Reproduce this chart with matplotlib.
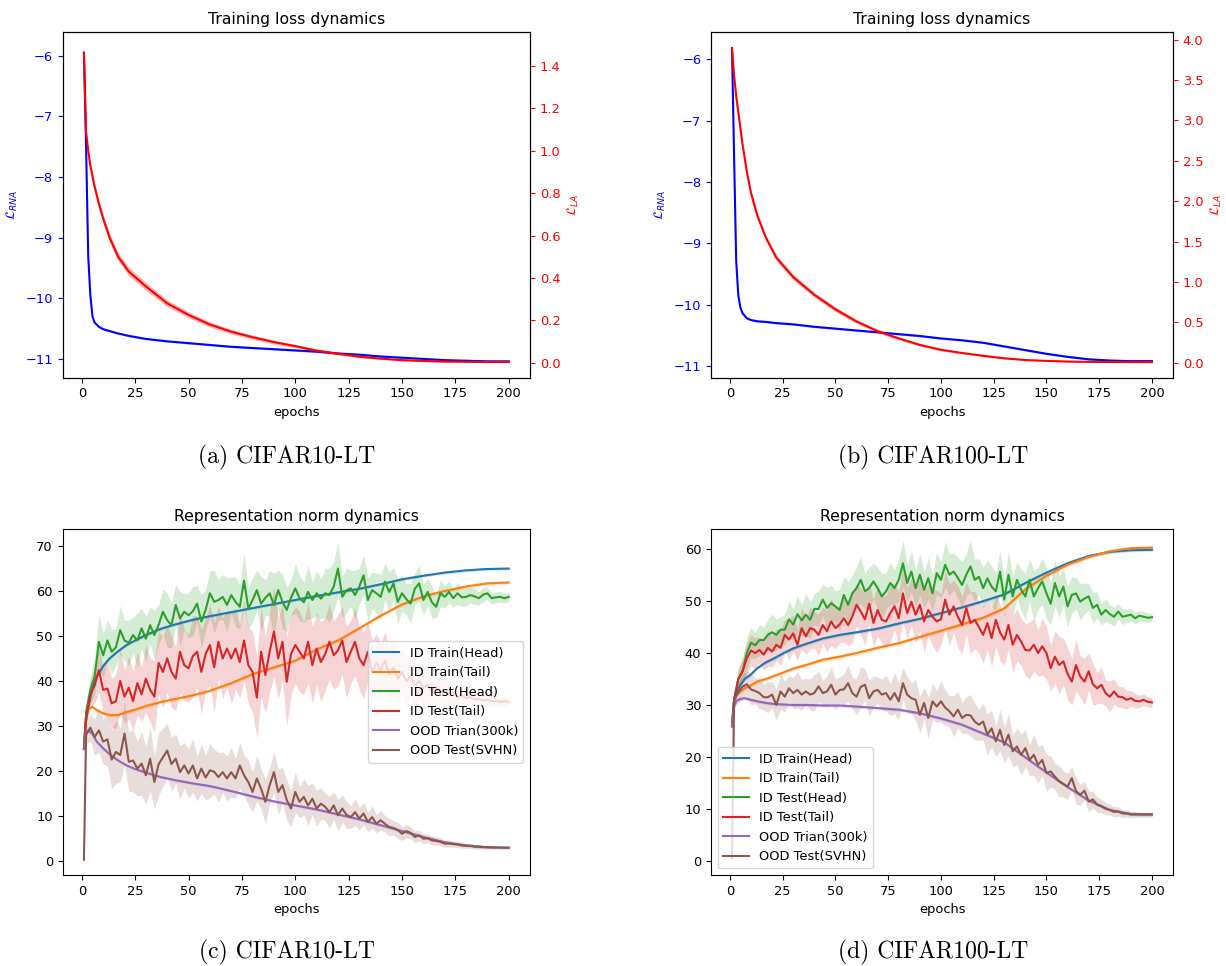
import numpy as np
import matplotlib
matplotlib.use('Agg')
import matplotlib.pyplot as plt

plt.rcParams['font.size'] = 9.4

# ---------------- data ----------------
loss_ep = [1, 2, 3, 4, 5, 6, 8, 10, 13, 17, 22, 30, 40, 50, 60, 70, 80, 90, 100,
           110, 120, 130, 140, 150, 160, 170, 180, 190, 200]

# (a) CIFAR10-LT
a_rna = [-5.95, -7.5, -9.3, -9.95, -10.3, -10.4, -10.47, -10.51, -10.54, -10.58, -10.62,
         -10.67, -10.71, -10.74, -10.77, -10.8, -10.82, -10.84, -10.86, -10.88, -10.91,
         -10.93, -10.96, -10.98, -11.0, -11.02, -11.03, -11.04, -11.04]
a_la = [1.46, 1.09, 1.0, 0.93, 0.88, 0.83, 0.75, 0.68, 0.59, 0.5, 0.43, 0.36, 0.28, 0.225,
        0.18, 0.146, 0.12, 0.097, 0.078, 0.057, 0.042, 0.028, 0.019, 0.012, 0.008, 0.005,
        0.004, 0.003, 0.003]
a_la_sd = [0.01, 0.012, 0.014, 0.015, 0.016, 0.017, 0.018, 0.02, 0.02, 0.02, 0.02, 0.018,
           0.016, 0.014, 0.012, 0.011, 0.01, 0.009, 0.008, 0.007, 0.006, 0.005, 0.004,
           0.004, 0.003, 0.003, 0.002, 0.002, 0.002]
# (b) CIFAR100-LT
b_rna = [-5.82, -7.6, -9.3, -9.85, -10.05, -10.14, -10.22, -10.25, -10.27, -10.28, -10.3,
         -10.32, -10.36, -10.39, -10.42, -10.45, -10.48, -10.51, -10.55, -10.58, -10.62,
         -10.68, -10.74, -10.8, -10.85, -10.89, -10.91, -10.92, -10.92]
b_la = [3.89, 3.55, 3.3, 3.1, 2.9, 2.7, 2.37, 2.1, 1.82, 1.55, 1.3, 1.06, 0.84, 0.66, 0.51,
        0.39, 0.3, 0.22, 0.16, 0.12, 0.085, 0.054, 0.033, 0.022, 0.014, 0.01, 0.008, 0.007,
        0.007]
b_la_sd = [0.02, 0.03, 0.03, 0.03, 0.03, 0.03, 0.035, 0.035, 0.035, 0.035, 0.035, 0.035,
           0.03, 0.03, 0.025, 0.02, 0.02, 0.015, 0.015, 0.01, 0.01, 0.008, 0.006, 0.005,
           0.004, 0.004, 0.003, 0.003, 0.003]

smooth_ep = [1, 2, 3, 5, 7, 10, 13, 17, 21, 25, 30, 37, 44, 52, 60, 70, 80, 90, 100, 110,
             120, 130, 140, 150, 160, 170, 180, 190, 200]
noisy_ep = [1] + list(range(2, 201, 2))

labels = ['ID Train(Head)', 'ID Train(Tail)', 'ID Test(Head)', 'ID Test(Tail)',
          'OOD Trian(300k)', 'OOD Test(SVHN)']

# (c) CIFAR10-LT
c_train_head = [25, 31, 34, 38.5, 41, 43.3, 45, 46.6, 48, 49, 50.2, 51.6, 52.6, 53.6,
                54.4, 55.3, 56.2, 57.1, 58.0, 58.9, 59.7, 60.5, 61.5, 62.6, 63.4, 64.1, 64.6,
                64.9, 65.0]
c_train_tail = [25, 32, 33.8, 34.2, 33.5, 32.8, 32.4, 32.4, 33.1, 33.6, 34.4, 35.3, 36,
                36.8, 37.8, 39.5, 41.5, 43, 44.5, 47, 49, 51.7, 54.5, 57, 58.8, 60, 61,
                61.7, 61.9]
c_ood_train = [24.8, 28.5, 29, 28.2, 26.5, 25, 23.7, 22.3, 21.2, 20.4, 19.6, 18.6, 17.9,
               17.2, 16.6, 15.5, 14.3, 13.2, 12.3, 11.4, 10.3, 9.2, 7.9, 6.6, 5.3, 4.1,
               3.4, 3.0, 2.9]
c_test_head = [25,
               33, 38, 41, 48.7, 45.7,
               49, 46.5, 47.5, 51.3, 49, 48.5, 50.2, 49, 51.7, 49.4, 52.4, 50.2, 52.5, 55.4, 53.5,
               52.4, 56.9, 53.9, 55.4, 54.6, 55.5, 57.2, 53.2, 55.8, 59.5, 57.6, 58, 58.7, 56.9,
               59.1, 57.6, 56.5, 62.3, 56.1, 58,
               60.2, 57.2, 58.5, 59.5, 56.9, 60.2, 57.6, 55.8, 58.5, 60.6, 58.4, 57.5, 59.8, 58,
               59.5, 58.3, 59.5, 59.1, 61, 65,
               58.7, 60.2, 60.6, 59.1, 61, 63.5, 58, 60.2, 59.5, 58.7, 62.1, 59.8, 61.7, 57.6,
               59.5, 58.2, 57.2, 60.5, 61.7, 58,
               59.8, 57.5, 56.5, 59.5, 58.7, 59.8, 58.4, 59.5, 58.6, 58.7, 59.1, 58.8, 58.4, 59.2,
               59.5, 58.4, 58.6, 58.7, 58.4, 58.7]
c_test_head_sd = [0.5,
                  2, 3, 4, 6, 5,
                  4.5, 5, 4, 5.5, 4.5, 5, 4, 6, 4.5, 5, 4, 5.5, 4.5, 5, 6,
                  5, 4.5, 6, 4, 5, 5.5, 4, 6, 4.5, 5, 7, 4.5, 5, 6, 4, 5.5, 5, 6, 4.5, 5,
                  4.5, 6, 4, 5, 7, 4.5, 6, 5, 4, 5.5, 5, 4.5, 6, 4, 5, 4.5, 5.5, 6, 5.5, 6,
                  4.5, 5, 4, 5.5, 4, 4.5, 5, 4, 4.5, 5, 4, 4.5, 3.5, 5, 4, 3.5, 4.5, 3.5, 4, 3.5,
                  3, 3.5, 2.5, 3, 2.5, 2.5, 2, 2.5, 2, 2, 1.8, 1.8, 1.5, 1.6, 1.4, 1.3, 1.2, 1.2,
                  1.1, 1.0]
c_test_tail = [25,
               31.6, 37, 39, 42.4, 38,
               38.3, 35, 35.5, 40, 36.5, 38.5, 35.5, 39.5, 37, 40.5, 38, 36.5, 44, 42, 45,
               42, 40.5, 46.5, 43.5, 42.8, 45.5, 46.5, 42, 46, 48, 43, 48.7, 45, 47.2, 45, 47.2,
               44.2, 49, 43.5, 42,
               36.3, 46.5, 41.3, 46.5, 51, 45, 48.7, 39.8, 46, 48, 46.5, 45, 48.7, 43.5, 47.2,
               44.2, 46, 48.7, 45.7, 46.8,
               49, 44.2, 46.5, 48.7, 45, 43.5, 46.5, 42, 44, 42.5, 44.5, 41.5, 43, 40.5, 42, 40,
               41, 39, 40, 38.5,
               39.2, 37.8, 38.6, 37.4, 37.9, 37, 37.2, 36.4, 36.8, 36.2, 36.4, 35.9, 36, 35.7,
               35.8, 35.5, 35.6, 35.3, 35.5, 35.3]
c_test_tail_sd = [0.5,
                  2, 3, 4, 5, 5,
                  6, 5.5, 6, 7, 6, 7, 6.5, 7, 6, 7.5, 7, 8, 7, 8, 7.5,
                  8, 7, 9, 8, 7.5, 9, 8, 9.5, 8, 9, 10, 8, 9, 8.5, 10, 9, 8, 9, 8.5, 9,
                  9, 10, 8.5, 9, 10, 9, 8.5, 10, 9, 8.5, 9, 8, 9, 8.5, 8, 9, 8, 8.5, 7.5, 8,
                  7.5, 8, 7, 7.5, 7, 7.5, 6.5, 7, 6.5, 6, 6.5, 5.5, 6, 5.5, 5, 5.5, 4.5, 5, 4, 4.5,
                  4, 3.5, 4, 3, 3.5, 2.5, 3, 2.5, 2, 2.2, 1.8, 1.8, 1.5, 1.5, 1.3, 1.3, 1.2, 1.1,
                  1.0, 1.0]
c_ood_test = [0.2,
              28, 29.6, 27.5, 29, 26.5,
              27, 22.5, 24.2, 23.5, 28.3, 22, 22.3, 20.5, 21.6, 19, 22.7, 17.5, 21.5, 23, 24.5,
              21.5, 22.7, 19.7, 21.2, 19.4, 21.2, 18.3, 20.5, 18.5, 20.1, 19.8, 18.6, 19.7, 18.3,
              19.7, 18.3, 21.2, 19, 17.5, 15.3,
              18.3, 16, 13.1, 16.8, 19.7, 15.3, 16.8, 13.5, 11.6, 15.3, 13.1, 14.2, 12.3, 13.8,
              11.6, 12.7, 12, 10.8, 12.3, 10.1,
              11.6, 10.2, 9.7, 10.8, 9.4, 10.5, 8.6, 9.7, 8.2, 9, 8.2, 7.5, 7.3, 6.8, 6, 6.6,
              6.2, 5.3, 5.6, 4.9,
              5, 4.5, 4.4, 4.2, 3.8, 3.8, 3.7, 3.6, 3.4, 3.3, 3.3, 3.1, 3.1, 3.0, 3.0, 2.95,
              2.95, 2.9, 2.9, 2.9]
c_ood_test_sd = [0.3,
                 2, 3, 4, 5, 5,
                 6, 6.5, 7, 6, 7, 6.5, 7, 6, 7, 6.5, 7, 6, 7, 6.5, 6,
                 6, 5.5, 6, 5, 5.5, 6, 5, 5.5, 5, 6, 5, 5.5, 4.5, 5, 5.5, 4.5, 5, 4.5, 5, 4.5,
                 5, 4.5, 5, 4, 4.5, 5, 4, 4.5, 4, 4.5, 3.5, 4, 4.5, 3.5, 4, 3.5, 3, 3.5, 3, 3.5,
                 3, 3, 2.5, 3, 2.5, 2.5, 2.2, 2.5, 2, 2.2, 1.8, 2, 1.6, 1.8, 1.5, 1.5, 1.3, 1.3,
                 1.2, 1.1,
                 1.0, 1.0, 0.9, 0.9, 0.8, 0.8, 0.7, 0.7, 0.6, 0.6, 0.5, 0.5, 0.5, 0.4, 0.4, 0.4,
                 0.3, 0.3, 0.3, 0.3]

# (d) CIFAR100-LT
d_train_head = [26, 31, 32.3, 33.9, 35, 35.9, 37.1, 38.2, 39, 39.9, 40.9, 41.9, 42.8, 43.5,
                44.0, 44.7, 45.7, 46.6, 47.7, 48.8, 50, 51.3, 53.5, 55.5, 57.3, 58.7, 59.5,
                59.8, 59.9]
d_train_tail = [26, 31, 31.8, 32.6, 33.2, 33.8, 34.5, 35, 35.6, 36.2, 37, 37.8, 38.7, 39.3,
                40, 41, 41.9, 43.1, 44.3, 45.5, 46.8, 48.6, 52.3, 54.9, 57, 58.5, 59.6, 60.2,
                60.3]
d_ood_train = [25.8, 29.7, 30.8, 31.2, 31.3, 31, 30.7, 30.4, 30.2, 30.1, 30, 30, 29.9, 29.9,
               29.7, 29.4, 29.1, 28.4, 27.4, 26.2, 24.5, 22.8, 19.9, 17, 14.2, 11.6, 9.8, 9,
               8.9]
d_test_head = [26,
               31, 35, 36.5, 40, 42,
               41.5, 42.5, 42.5, 43.5, 44, 43.5, 44.5, 44.5, 46.5, 45.5, 47.5, 46.3, 47.4, 46.4,
               48.5,
               48.5, 50.3, 48.7, 49.6, 49, 48.3, 51.2, 49.3, 51.5, 52.5, 54.1, 51.9, 52.5, 53.8,
               52.5, 50.9, 51.9, 53.5, 52.5, 54.1,
               57.3, 53.5, 55.7, 52.5, 55.1, 52.2, 54.4, 51.5, 55.4, 54.1, 57, 55.1, 55.7, 54.5,
               53.1, 55.1, 56.7, 54.1, 54.7, 52.5,
               54.4, 52.8, 51.9, 55.7, 50.3, 55.1, 50.9, 54.1, 52.2, 50.9, 54.1, 50.9, 52.5, 53.8,
               51.5, 49.5, 53.5, 50.9, 52.8, 49,
               51.2, 51.5, 49.9, 50.5, 50.9, 48.7, 49.3, 47.4, 48.3, 47.5, 47, 48, 47, 47.2, 47.4,
               46.7, 47.2, 47, 46.8, 46.9]
d_test_head_sd = [0.5,
                  1.5, 2, 2.5, 3, 3,
                  2.5, 3, 2.5, 3, 3.5, 3, 2.5, 3, 3.5, 3, 3.5, 3, 4, 3.5, 3,
                  3.5, 3, 4, 3.5, 3, 4, 3.5, 4.5, 3.5, 4, 4.5, 3.5, 4, 3.5, 4, 4.5, 3.5, 4, 3.5, 4,
                  4.5, 3.5, 4, 3.5, 4, 3.5, 4, 3.5, 4, 3.5, 4.5, 4, 3.5, 4, 4.5, 4, 5, 4, 3.5, 4,
                  3.5, 4, 3.5, 4, 3.5, 4.5, 4, 3.5, 4, 4.5, 4, 5, 4, 4.5, 5, 4, 4.5, 4, 3.5, 4,
                  3.5, 3, 3.5, 3, 2.5, 3, 2.5, 2, 2.2, 1.8, 1.8, 1.5, 1.5, 1.3, 1.2, 1.1, 1.0, 1.0,
                  0.9, 0.8]
d_test_tail = [26,
               31, 35, 36.5, 39, 40.5,
               40, 40.6, 39.7, 41, 40.3, 41.6, 41, 43.5, 42.6, 43.8, 41.6, 44.8, 43.2, 44.8, 44.5,
               43.5, 45.4, 44.2, 46.1, 44.8, 45.5, 46.7, 45.4, 47, 49.3, 48, 46.5, 49.5, 45.8,
               48.3, 46.4, 46.1, 47.7, 49, 46.7,
               51.5, 47.7, 49.9, 47.4, 49.3, 46.1, 48.3, 47, 46.1, 46.5, 50.3, 47.4, 49, 47, 45.4,
               48.7, 45.8, 46.4, 45, 43.5,
               45.8, 42.9, 46.4, 44, 42.6, 45.4, 41.6, 43.5, 42.2, 40.6, 40.5, 41.6, 40, 41.3, 40,
               37.1, 39.3, 37.7, 38.4, 36,
               34.5, 37.7, 35.5, 34.5, 36.5, 34, 33.2, 33.9, 32.3, 31.6, 32.6, 31.6, 31.5, 31,
               31.3, 30.8, 30.7, 31, 30.6, 30.5]
d_test_tail_sd = [0.5,
                  1.5, 2, 2.5, 3, 3,
                  3, 2.5, 3, 3.5, 3, 3, 3.5, 3, 4, 3.5, 3, 4, 3.5, 4, 3.5,
                  4, 3.5, 4, 4.5, 4, 3.5, 4.5, 4, 5, 4, 4.5, 5, 4, 4.5, 5, 4.5, 5, 5.5, 4.5, 5,
                  5.5, 5, 4.5, 5.5, 5, 6, 5, 5.5, 6, 5, 5.5, 6, 5, 6, 5.5, 5, 6, 5.5, 5, 5.5,
                  5, 5.5, 5, 5.5, 5, 4.5, 5.5, 5, 4.5, 5, 5.5, 5, 4.5, 5.5, 5, 4.5, 5, 5.5, 4.5, 5,
                  4.5, 5, 4, 4.5, 3.5, 4, 3, 3.5, 2.5, 3, 2.5, 2, 2, 1.8, 1.5, 1.4, 1.2, 1.1, 1.0,
                  1.0]
d_ood_test = [0.5,
              31, 32.5, 33.5, 34, 33,
              32.7, 32.3, 31.5, 31.5, 32, 30, 32.6, 31.6, 33.2, 32.3, 32.9, 32, 32.6, 32, 32.3,
              33.6, 32.3, 32.6, 33.9, 32, 32.9, 33, 34.2, 32.3, 31.6, 33.5, 33.9, 31.3, 32.6,
              32.9, 32, 32.3, 31, 32.3, 30.7,
              34.2, 32, 31.3, 31, 28.1, 30.4, 27.5, 30.7, 29.7, 30.7, 29.5, 28.8, 27.8, 29.1,
              27.5, 28.1, 28, 26.8, 26.2, 26.8,
              24.3, 25.5, 23, 25.2, 22.3, 24.3, 21.1, 22, 20.4, 21.7, 19.4, 20.4, 18.5, 19.4,
              16.9, 17.2, 16.2, 15.3, 14.8, 14.3,
              15.9, 13.4, 12.7, 13.5, 11.4, 11.8, 10.8, 10.5, 10, 9.8, 9.4, 9.5, 9.1, 9.1, 8.9,
              8.9, 8.9, 8.9, 8.9, 8.9]
d_ood_test_sd = [0.3,
                 1.5, 2, 2.5, 2.5, 3,
                 2.5, 3, 2.5, 3, 2.5, 3, 3.5, 3, 2.5, 3, 3.5, 3, 2.5, 3, 3.5,
                 3, 2.5, 3, 3.5, 3, 2.5, 3, 3.5, 3, 3.5, 4, 3, 3.5, 3, 2.5, 3, 3.5, 3, 4, 3.5,
                 3, 3.5, 3, 4, 3.5, 3, 4, 3.5, 3, 4, 3.5, 3, 4, 3.5, 3, 3.5, 4, 3.5, 3, 3.5,
                 4, 3.5, 3, 4, 3.5, 4, 3, 3.5, 4, 3.5, 3, 4, 3.5, 3, 3.5, 3, 2.5, 3, 2.5, 2.5,
                 2.2, 2.5, 2, 1.8, 2, 1.6, 1.5, 1.3, 1.2, 1, 1, 0.9, 0.8, 0.7, 0.6, 0.6, 0.5, 0.5,
                 0.5, 0.5]

# ---------------- figure ----------------
W, H = 1226, 966
fig = plt.figure(figsize=(W / 100, H / 100), dpi=100)


def box(l, t, r, b):
    return [l / W, 1 - b / H, (r - l) / W, (b - t) / H]


def band(ax, x, y, sd, color, alpha=0.2, lw=1.5, label=None):
    x = np.array(x)
    y = np.array(y, dtype=float)
    sd = np.array(sd, dtype=float)
    ax.plot(x, y, color=color, lw=lw, label=label)
    ax.fill_between(x, y - sd, y + sd, color=color, alpha=alpha, lw=0)


def loss_panel(rect, rna, la, la_sd, lim_l, lim_r):
    ax = fig.add_axes(rect)
    band(ax, loss_ep, rna, 0.015, 'blue', alpha=0.3)
    ax.set_ylim(*lim_l)
    ax.set_ylabel(r'$\mathcal{L}_{RNA}$', color='blue')
    ax.tick_params(axis='y', colors='blue')
    ax.set_xlabel('epochs')
    ax.set_title('Training loss dynamics')
    ax.set_xticks([0, 25, 50, 75, 100, 125, 150, 175, 200])
    ax2 = ax.twinx()
    band(ax2, loss_ep, la, la_sd, 'red', alpha=0.3)
    ax2.set_ylim(*lim_r)
    ax2.set_ylabel(r'$\mathcal{L}_{LA}$', color='red')
    ax2.tick_params(axis='y', colors='red')
    return ax


def norm_panel(rect, smooth, noisy, lim, loc):
    ax = fig.add_axes(rect)
    colors = ['tab:blue', 'tab:orange', 'tab:green', 'tab:red', 'tab:purple', 'tab:brown']
    tr_head, tr_tail, ood_tr = smooth
    (te_head, te_head_sd), (te_tail, te_tail_sd), (ood_te, ood_te_sd) = noisy
    band(ax, smooth_ep, tr_head, 0.3, colors[0], label=labels[0])
    band(ax, smooth_ep, tr_tail, 0.4, colors[1], label=labels[1])
    band(ax, noisy_ep, te_head, te_head_sd, colors[2], label=labels[2])
    band(ax, noisy_ep, te_tail, te_tail_sd, colors[3], label=labels[3])
    band(ax, smooth_ep, ood_tr, 0.3, colors[4], label=labels[4])
    band(ax, noisy_ep, ood_te, ood_te_sd, colors[5], label=labels[5])
    ax.set_ylim(*lim)
    ax.set_xticks([0, 25, 50, 75, 100, 125, 150, 175, 200])
    ax.set_xlabel('epochs')
    ax.set_title('Representation norm dynamics')
    ax.legend(loc=loc)
    return ax


loss_panel(box(62.7, 32.3, 530, 377.7), a_rna, a_la, a_la_sd,
           (-11.31, -5.614), (-0.071, 1.559))
loss_panel(box(711, 32.3, 1173, 377.7), b_rna, b_la, b_la_sd,
           (-11.19, -5.56), (-0.186, 4.09))
norm_panel(box(62.7, 529, 530, 875),
           (c_train_head, c_train_tail, c_ood_train),
           ((c_test_head, c_test_head_sd), (c_test_tail, c_test_tail_sd),
            (c_ood_test, c_ood_test_sd)),
           (-3.18, 73.8), 'center right')
norm_panel(box(711, 529, 1173, 875),
           (d_train_head, d_train_tail, d_ood_train),
           ((d_test_head, d_test_head_sd), (d_test_tail, d_test_tail_sd),
            (d_ood_test, d_ood_test_sd)),
           (-2.75, 63.9), 'lower left')

captions = ['(a) CIFAR10-LT', '(b) CIFAR100-LT', '(c) CIFAR10-LT', '(d) CIFAR100-LT']
cap_xy = [(287, 457), (933, 457), (287, 952), (933, 952)]
for txt, (cx, cy) in zip(captions, cap_xy):
    fig.text(cx / W, 1 - cy / H, txt, ha='center', va='center', family='cmr10', fontsize=17)

fig.savefig('out.png', dpi=100)
